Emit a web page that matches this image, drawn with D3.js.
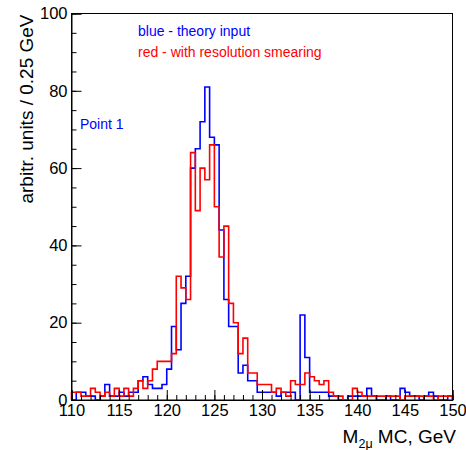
<!DOCTYPE html>
<html>
<head>
<meta charset="UTF-8">
<title>M2mu histogram</title>
<script src="https://cdn.jsdelivr.net/npm/d3@7"></script>
<style>
    body { margin: 0; background: #fff; }
    svg { display: block; font-family: "Liberation Sans", Arial, sans-serif; }
    .axis path, .axis line { stroke: #000; }
    .axis text { font-size: 16.5px; fill: #000; }
</style>
</head>
<body>
<svg id="chart" width="466" height="450"></svg>
<script>
    // 0.5 GeV bins from 110 to 150
    var binEdges = d3.range(110, 150, 0.5);

    // blue - theory input
    var theory = [
        0, 2, 2, 1, 1, 0, 1, 4, 1, 1,
        2, 1, 2, 2, 5, 6, 4, 3, 3, 4,
        8, 19, 13, 25, 32, 60, 65, 72, 81, 68,
        66, 44, 26, 19, 19, 7, 9, 5, 5, 2,
        2, 2, 2, 1, 2, 2, 2, 0, 22, 11,
        2, 2, 2, 2, 1, 1, 0, 0, 1, 1,
        1, 1, 3, 1, 0, 0, 1, 0, 0, 3,
        2, 1, 1, 0, 1, 2, 1, 0, 0, 1
    ];

    // red - with resolution smearing
    var smeared = [
        2, 2, 1, 1, 3, 2, 1, 2, 1, 3,
        1, 3, 1, 3, 5, 3, 5, 8, 10, 10,
        10, 12, 32, 29, 26, 64, 49, 60, 57, 66,
        50, 37, 45, 25, 20, 12, 16, 7, 7, 4,
        4, 4, 2, 3, 2, 1, 5, 4, 4, 7,
        6, 5, 4, 5, 2, 1, 1, 0, 0, 3,
        2, 1, 1, 1, 1, 1, 1, 1, 1, 0,
        1, 1, 1, 1, 1, 1, 0, 1, 1, 1
    ];

    var xTicks = d3.range(110, 151, 5);
    var yTicks = d3.range(0, 101, 20);

    var svg = d3.select("#chart");

    var x = d3.scaleLinear().domain([110, 150]).range([71.5, 452.5]);
    var y = d3.scaleLinear().domain([0, 100]).range([400, 13.5]);

    // frame
    svg.append("rect")
        .attr("x", x(110)).attr("y", y(100))
        .attr("width", x(150) - x(110)).attr("height", y(0) - y(100))
        .attr("fill", "none").attr("stroke", "#000").attr("stroke-width", 1);

    // histograms as step outlines
    var step = d3.line()
        .x(function (d) { return x(d[0]); })
        .y(function (d) { return y(d[1]); })
        .curve(d3.curveStepAfter);

    function outline(values) {
        var pts = [[110, 0]];
        values.forEach(function (v, i) { pts.push([binEdges[i], v]); });
        pts.push([150, values[values.length - 1]]);
        pts.push([150, 0]);
        return pts;
    }

    svg.append("path")
        .attr("d", step(outline(theory)))
        .attr("fill", "none").attr("stroke", "#0000ff").attr("stroke-width", 1.6);

    svg.append("path")
        .attr("d", step(outline(smeared)))
        .attr("fill", "none").attr("stroke", "#ff0000").attr("stroke-width", 1.6);

    // axes: major + minor ticks pointing inward
    svg.append("g").attr("class", "axis")
        .attr("transform", "translate(" + x(110) + ",0)")
        .call(d3.axisLeft(y).tickValues(d3.range(0, 101, 5)).tickSize(-5).tickFormat(""))
        .select(".domain").remove();
    svg.append("g").attr("class", "axis")
        .attr("transform", "translate(" + x(110) + ",0)")
        .call(d3.axisLeft(y).tickValues(yTicks).tickSize(-10).tickPadding(4).tickFormat(d3.format("d")));

    svg.append("g").attr("class", "axis")
        .attr("transform", "translate(0," + y(0) + ")")
        .call(d3.axisBottom(x).tickValues(d3.range(110, 151, 1)).tickSize(-5).tickFormat(""))
        .select(".domain").remove();
    svg.append("g").attr("class", "axis")
        .attr("transform", "translate(0," + y(0) + ")")
        .call(d3.axisBottom(x).tickValues(xTicks).tickSize(-10).tickPadding(4).tickFormat(d3.format("d")));

    // axis titles
    svg.append("text")
        .attr("transform", "translate(33," + (y(100) + 1) + ") rotate(-90)")
        .attr("text-anchor", "end")
        .style("font-size", "19px")
        .text("arbitr. units / 0.25 GeV");

    var xt = svg.append("text")
        .attr("x", 456).attr("y", 443)
        .attr("text-anchor", "end")
        .style("font-size", "19px");
    xt.append("tspan").text("M");
    xt.append("tspan").attr("dy", 5).style("font-size", "12.5px").text("2\u03bc");
    xt.append("tspan").attr("dy", -5).text(" MC, GeV");

    // labels inside the frame
    svg.append("text").attr("x", 138).attr("y", 36)
        .style("font-size", "14px").attr("fill", "#0000ff")
        .text("blue - theory input");
    svg.append("text").attr("x", 138).attr("y", 57)
        .style("font-size", "14px").attr("fill", "#ff0000")
        .text("red - with resolution smearing");
    svg.append("text").attr("x", 80).attr("y", 129)
        .style("font-size", "14px").attr("fill", "#0000ff")
        .text("Point 1");
</script>
</body>
</html>
